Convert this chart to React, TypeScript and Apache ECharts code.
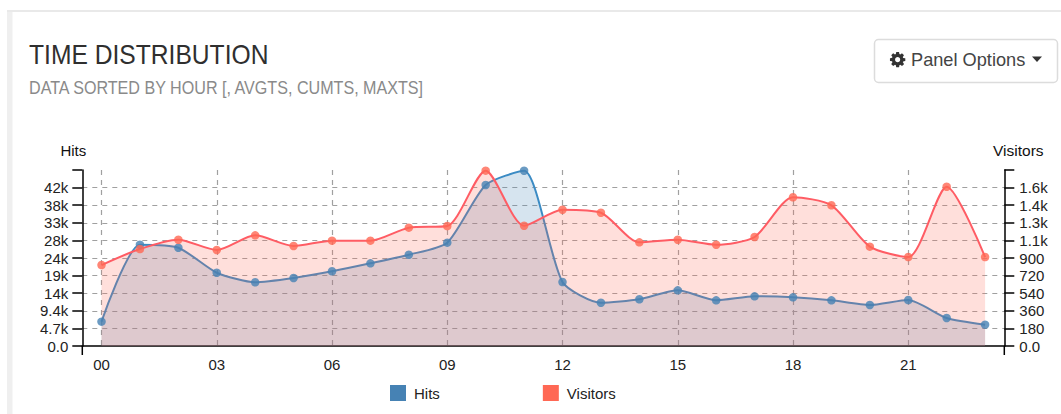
import React, { useEffect, useRef } from "react";
import * as echarts from "echarts";

const hours = ["00","01","02","03","04","05","06","07","08","09","10","11","12","13","14","15","16","17","18","19","20","21","22","23"];
const hits = [6500,27050,26250,19570,17010,18160,19950,22080,24380,27590,43000,46800,17090,11560,12470,14870,12200,13270,13000,12200,10950,12280,7480,5690];
const visitors = [828,992,1087,982,1132,1023,1077,1077,1210,1227,1793,1230,1394,1363,1060,1087,1036,1115,1521,1439,1016,910,1629,910];

const hitsAxisMax = 47000;
const hitsAxisStep = 4700;
const visitorsAxisMax = 1800;
const visitorsAxisStep = 180;

const BLUE_LINE = "#3b8bc4";
const BLUE = "#4682b4";
const RED_LINE = "#ff5c64";
const RED = "#ff6854";
const FONT = "'Liberation Sans', Arial, sans-serif";

const GEAR = "M1152 896q0-106-75-181t-181-75-181 75-75 181 75 181 181 75 181-75 75-181zm512-109v222q0 12-8 23t-20 13l-185 28q-19 54-39 91 35 50 107 138 10 12 10 25t-9 23q-27 37-99 108t-94 71q-12 0-26-9l-138-108q-44 23-91 38-16 136-29 186-7 28-36 28h-222q-14 0-24.5-8.5t-11.5-21.5l-28-184q-49-16-90-37l-141 107q-10 9-25 9-14 0-25-11-126-114-165-168-7-10-7-23 0-12 8-23 15-21 51-66.5t54-70.5q-27-50-41-99l-183-27q-13-2-21-12.5t-8-23.5v-222q0-12 8-23t19-13l186-28q14-46 39-92-40-57-107-138-10-12-10-24 0-10 9-23 26-36 98.5-107.5t94.5-71.5q13 0 26 10l138 107q44-23 91-38 16-136 29-186 7-28 36-28h222q14 0 24.5 8.5t11.5 21.5l28 184q49 16 90 37l142-107q9-9 24-9 13 0 25 10 129 119 165 170 7 8 7 22 0 12-8 23-15 21-51 66.5t-54 70.5q26 50 41 98l183 28q13 2 21 12.5t8 23.5z";
echarts.graphic.registerShape("gearIcon", echarts.graphic.extendPath(GEAR, {}));

const fmt = (max: number) => (v: number) => {
  if (v >= max) return "";
  if (v === 0) return "0.0";
  if (v >= 1000) {
    const k = v / 1000;
    return (k >= 10 ? String(Math.round(k)) : k.toFixed(1)) + "k";
  }
  return String(Math.round(v));
};

const dash = { color: "#a0a0a0", type: [5, 5] as number[], width: 1.2 };
const tickStyle = { color: "#000", width: 1.5 };

export default function App() {
  const ref = useRef<HTMLDivElement>(null);
  useEffect(() => {
    if (!ref.current) return;
    const chart = echarts.init(ref.current, undefined, { renderer: "svg" });
    const s = 16 / 1536;
    chart.setOption({
      animation: false,
      backgroundColor: "#fff",
      textStyle: { fontFamily: FONT },
      grid: { left: 82.3, top: 170, width: 922, height: 176 },
      legend: {
        left: 385,
        top: 380,
        itemWidth: 16,
        itemHeight: 16,
        itemGap: 103,
        data: [
          { name: "Hits", icon: "rect", itemStyle: { color: BLUE } },
          { name: "Visitors", icon: "rect", itemStyle: { color: RED } },
        ],
        textStyle: { fontFamily: FONT, fontSize: 15, color: "#222", padding: [0, 0, 0, 3] },
      },
      xAxis: {
        type: "category",
        data: hours,
        boundaryGap: true,
        axisLine: { lineStyle: { color: "#000", width: 1.5 } },
        axisTick: { interval: 2, alignWithLabel: true, length: 9, lineStyle: { color: "#000", width: 1 } },
        axisLabel: { interval: 2, fontSize: 15, color: "#222", fontFamily: FONT, margin: 11 },
        splitLine: { show: true, interval: 2, alignWithLabel: true, lineStyle: dash },
      },
      yAxis: [
        {
          type: "value",
          name: "Hits",
          nameGap: 12,
          nameTextStyle: { fontFamily: FONT, fontSize: 15, color: "#111", padding: [0, 18, 0, 0] },
          min: 0,
          max: hitsAxisMax,
          interval: hitsAxisStep,
          axisLine: { show: true, lineStyle: { color: "#000", width: 1.5 } },
          axisTick: { show: true, length: 10, lineStyle: tickStyle },
          axisLabel: { fontSize: 15, color: "#222", fontFamily: FONT, margin: 14, formatter: fmt(hitsAxisMax) },
          splitLine: { show: true, lineStyle: dash, showMaxLine: false, showMinLine: false },
        },
        {
          type: "value",
          name: "Visitors",
          nameGap: 12,
          nameTextStyle: { fontFamily: FONT, fontSize: 15.5, color: "#111", padding: [0, 0, 0, 28] },
          min: 0,
          max: visitorsAxisMax,
          interval: visitorsAxisStep,
          position: "right",
          axisLine: { show: true, lineStyle: { color: "#000", width: 1.5 } },
          axisTick: { show: true, length: 10, lineStyle: tickStyle },
          axisLabel: { fontSize: 15, color: "#222", fontFamily: FONT, margin: 15, formatter: fmt(visitorsAxisMax) },
          splitLine: { show: false },
        },
      ],
      series: [
        {
          name: "Hits",
          type: "line",
          yAxisIndex: 0,
          data: hits,
          smooth: 0.22,
          showSymbol: false,
          symbol: "none",
          lineStyle: { color: BLUE_LINE, width: 2 },
          itemStyle: { color: BLUE },
          areaStyle: { color: BLUE, opacity: 0.22 },
          z: 2,
        },
        {
          name: "Visitors",
          type: "line",
          yAxisIndex: 1,
          data: visitors,
          smooth: 0.25,
          showSymbol: false,
          symbol: "none",
          lineStyle: { color: RED_LINE, width: 2 },
          itemStyle: { color: RED },
          areaStyle: { color: RED, opacity: 0.21 },
          z: 3,
        },
        { name: "Hits", type: "scatter", yAxisIndex: 0, data: hits, symbolSize: 8.5, itemStyle: { color: BLUE }, z: 4 },
        { name: "Visitors", type: "scatter", yAxisIndex: 1, data: visitors, symbolSize: 8.5, itemStyle: { color: RED }, z: 4 },
      ],
      graphic: [
        { type: "rect", shape: { x: 7, y: 10, width: 5.5, height: 404 }, style: { fill: "#efefef" }, silent: true },
        { type: "rect", shape: { x: 7, y: 10, width: 1054, height: 2 }, style: { fill: "#e9e9e9" }, silent: true },
        { type: "line", shape: { x1: 82.3, y1: 346, x2: 82.3, y2: 355 }, style: { stroke: "#000", lineWidth: 1.5 }, silent: true },
        { type: "line", shape: { x1: 1004.3, y1: 346, x2: 1004.3, y2: 355 }, style: { stroke: "#000", lineWidth: 1.5 }, silent: true },
        { type: "text", x: 29, y: 55, scaleX: 0.896, style: { text: "TIME DISTRIBUTION", font: `27.5px ${FONT}`, fill: "#2f2f2f", textVerticalAlign: "middle" } },
        { type: "text", x: 29, y: 88, scaleX: 0.848, style: { text: "DATA SORTED BY HOUR [, AVGTS, CUMTS, MAXTS]", font: `19px ${FONT}`, fill: "#8a8a8a", textVerticalAlign: "middle" } },
        { type: "rect", shape: { x: 874.5, y: 39.5, width: 183, height: 43, r: 4 }, style: { fill: "#fff", stroke: "#dcdcdc", lineWidth: 1.5 } },
        { type: "gearIcon", x: 898 - 896 * s, y: 60 - 896 * s, scaleX: s, scaleY: s, style: { fill: "#333" } },
        { type: "text", x: 911, y: 60, style: { text: "Panel Options", font: `18.2px ${FONT}`, fill: "#444", textVerticalAlign: "middle" } },
        { type: "polygon", shape: { points: [[1032, 56.5], [1042, 56.5], [1037, 62]] }, style: { fill: "#333" } },
      ],
    });
    return () => chart.dispose();
  }, []);
  return <div ref={ref} style={{ position: "absolute", left: 0, top: 0, width: 1061, height: 414 }} />;
}
